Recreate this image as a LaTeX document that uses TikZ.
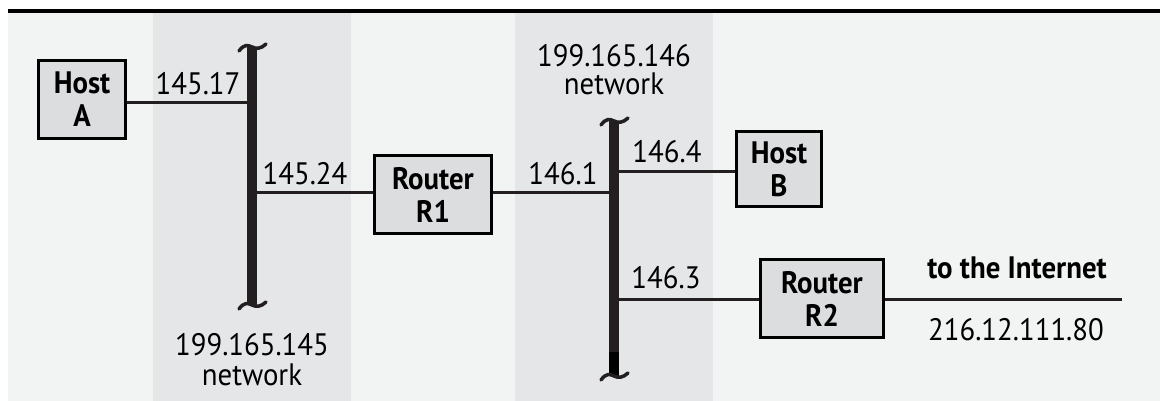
\documentclass[tikz,border=0pt]{standalone}
\usepackage{fontspec}
\setmainfont{PT Sans}[FakeStretch=0.93]
\definecolor{bg}{HTML}{F2F3F3}
\definecolor{band}{HTML}{E5E6E7}
\definecolor{boxfill}{HTML}{DCDDDE}
\definecolor{ink}{HTML}{231F20}
\begin{document}
\begin{tikzpicture}[x=1pt,y=-1pt,
  box/.style={draw=black, line width=3pt, fill=boxfill, inner sep=0pt, align=center,
    font=\bfseries\fontsize{31}{33}\selectfont},
  lbl/.style={anchor=base, inner sep=0pt, font=\fontsize{31}{33}\selectfont},
  blbl/.style={lbl, font=\bfseries\fontsize{31}{33}\selectfont},
  link/.style={draw=ink, line width=3pt},
  bus/.style={draw=ink, line width=10pt},
  squig/.style={draw=ink, line width=3.5pt, line cap=round},
  squiggle/.pic={\draw[squig] (-13,4) .. controls (-8,-3) and (-4,-2) .. (0,0) .. controls (4,2) and (9,2) .. (14,-3);}]
\useasboundingbox (0,0) rectangle (1160,401);
\fill[white] (0,0) rectangle (1160,401);
\fill[bg] (8,13) rectangle (1160,401);
\fill[band] (153,13) rectangle (351,401);
\fill[band] (515,13) rectangle (713,401);
\draw[black, line width=4pt] (8,11.5) -- (1160,11.5);

% buses
\coordinate (b1top) at (252,47);
\coordinate (b1bot) at (252,305);
\coordinate (b2top) at (614,121);
\coordinate (b2bot) at (614,376);
\draw[bus] (b1top) -- (b1bot);
\draw[bus] (b2top) -- (b2bot);
\draw[black, line width=10pt] (614,352) -- (b2bot);
\pic at (b1top) {squiggle};
\pic at (b1bot) {squiggle};
\pic at (b2top) {squiggle};
\pic at (b2bot) {squiggle};

% boxes
\node[box, minimum width=87, minimum height=78] (hostA) at (82,99.5) {Host\\A};
\node[box, minimum width=117, minimum height=78] (r1) at (433,194.5) {Router\\R1};
\node[box, minimum width=85, minimum height=75] (hostB) at (779,169) {Host\\B};
\node[box, minimum width=123, minimum height=78] (r2) at (822,298.5) {Router\\R2};

% attachment points
\coordinate (b1a) at (252,103);
\coordinate (b1b) at (252,193);
\coordinate (b2a) at (614,193);
\coordinate (b2b) at (614,172);
\coordinate (b2c) at (614,299);
\coordinate (inet) at (1122,299);

\draw[link] (hostA.east |- b1a) -- (b1a);
\draw[link] (b1b) -- (b1b -| r1.west);
\draw[link] (r1.east |- b2a) -- (b2a);
\draw[link] (b2b) -- (b2b -| hostB.west);
\draw[link] (b2c) -- (b2c -| r2.west);
\draw[link] (r2.east |- inet) -- (inet);

% labels
\node[lbl] (l1) at (198,95) {145.17};
\node[lbl] (l2) at (305,185) {145.24};
\node[lbl] (l3) at (563,185) {146.1};
\node[lbl] (l4) at (667,163) {146.4};
\node[lbl] (l5) at (666,288) {146.3};
\node[blbl] (l6) at (1017,278) {to the Internet};
\node[lbl] (l7) at (1016,340) {216.12.111.80};
\node[lbl] (n1a) at (252,355) {199.165.145};
\node[lbl] (n1b) at (252,385) {network};
\node[lbl] (n2a) at (614,67) {199.165.146};
\node[lbl] (n2b) at (614,95) {network};
\end{tikzpicture}
\end{document}
